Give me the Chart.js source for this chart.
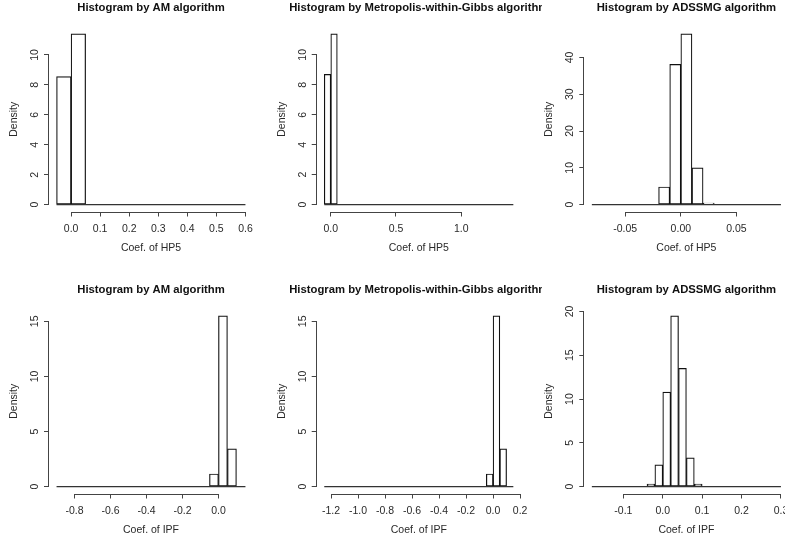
<!DOCTYPE html>
<html>
<head>
<meta charset="utf-8">
<script src="https://cdn.jsdelivr.net/npm/chart.js@4.4.0/dist/chart.umd.min.js"></script>
<style>
  html, body { margin: 0; padding: 0; background: #fff; overflow: hidden; }
  #wrap { position: relative; width: 785px; height: 542px; overflow: hidden; background: #fff; }
  .panel { position: absolute; }
</style>
</head>
<body>
<div id="wrap">
  <div class="panel" style="left:0px;top:0px"><canvas id="am_hp5" width="262" height="260"></canvas></div>
  <div class="panel" style="left:262px;top:0px"><canvas id="mwg_hp5" width="280" height="260"></canvas></div>
  <div class="panel" style="left:543px;top:0px"><canvas id="ads_hp5" width="247" height="260"></canvas></div>
  <div class="panel" style="left:0px;top:282px"><canvas id="am_ipf" width="262" height="260"></canvas></div>
  <div class="panel" style="left:262px;top:282px"><canvas id="mwg_ipf" width="280" height="260"></canvas></div>
  <div class="panel" style="left:543px;top:282px"><canvas id="ads_ipf" width="247" height="260"></canvas></div>
</div>
<script>
// ---------- data (densities) ----------
const title_am = "Histogram by AM algorithm";
const title_mwg = "Histogram by Metropolis-within-Gibbs algorithm";
const title_ads = "Histogram by ADSSMG algorithm";
const xlab_hp5 = "Coef. of HP5";
const xlab_ipf = "Coef. of IPF";
const ylab = "Density";

// HP5
const am_hp5_range = [-0.05, 0.6];          // first / last break
const am_hp5_mids = [-0.025, 0.025];        // bins with non-zero density
const am_hp5_density = [8.55, 11.41];
const am_hp5_xticks = [0.0, 0.1, 0.2, 0.3, 0.4, 0.5, 0.6];
const am_hp5_yticks = [0, 2, 4, 6, 8, 10];

const mwg_hp5_range = [-0.05, 1.4];
const mwg_hp5_mids = [-0.025, 0.025];
const mwg_hp5_density = [8.69, 11.4];
const mwg_hp5_xticks = [0.0, 0.5, 1.0];
const mwg_hp5_yticks = [0, 2, 4, 6, 8, 10];

const ads_hp5_range = [-0.08, 0.09];
const ads_hp5_mids = [-0.015, -0.005, 0.005, 0.015, 0.025];
const ads_hp5_density = [4.8, 38.1, 46.4, 10.0, 0.4];
const ads_hp5_xticks = [-0.05, 0.0, 0.05];
const ads_hp5_yticks = [0, 10, 20, 30, 40];

// IPF
const am_ipf_range = [-0.9, 0.15];
const am_ipf_mids = [-0.025, 0.025, 0.075];
const am_ipf_density = [1.15, 15.5, 3.43];
const am_ipf_xticks = [-0.8, -0.6, -0.4, -0.2, 0.0];
const am_ipf_yticks = [0, 5, 10, 15];

const mwg_ipf_range = [-1.25, 0.15];
const mwg_ipf_mids = [-0.025, 0.025, 0.075];
const mwg_ipf_density = [1.15, 15.5, 3.43];
const mwg_ipf_xticks = [-1.2, -1.0, -0.8, -0.6, -0.4, -0.2, 0.0, 0.2];
const mwg_ipf_yticks = [0, 5, 10, 15];

const ads_ipf_range = [-0.18, 0.3];
const ads_ipf_mids = [-0.03, -0.01, 0.01, 0.03, 0.05, 0.07, 0.09];
const ads_ipf_density = [0.3, 2.5, 10.8, 19.5, 13.5, 3.3, 0.3];
const ads_ipf_xticks = [-0.1, 0.0, 0.1, 0.2, 0.3];
const ads_ipf_yticks = [0, 5, 10, 15, 20];

// ---------- look ----------
const FONT = "'Liberation Sans', Arial, sans-serif";
const AXIS_COLOR = "#444";
const BAR_LINE = "#111";
const TEXT_COLOR = "#2a2a2a";
Chart.defaults.font.family = FONT;

// R style: axis line only from first to last tick, title centred on plot region
const rAxes = {
  id: "rAxes",
  afterDraw(chart, args, opts) {
    const {ctx, chartArea, scales} = chart;
    const al = v => Math.round(v - 0.5) + 0.5;
    const xs = scales.x, ys = scales.y;
    const xt = xs.ticks, yt = ys.ticks;
    ctx.save();
    ctx.strokeStyle = AXIS_COLOR;
    ctx.lineWidth = 1;
    ctx.beginPath();
    const by = Math.round(chartArea.bottom) + 0.5;
    ctx.moveTo(al(xs.getPixelForValue(xt[0].value)) - 0.5, by);
    ctx.lineTo(al(xs.getPixelForValue(xt[xt.length - 1].value)) + 0.5, by);
    const lx = Math.round(chartArea.left) - 0.5;
    ctx.moveTo(lx, al(ys.getPixelForValue(yt[0].value)) + 0.5);
    ctx.lineTo(lx, al(ys.getPixelForValue(yt[yt.length - 1].value)) - 0.5);
    ctx.stroke();

    ctx.font = "bold 11.3px " + FONT;
    ctx.fillStyle = "#111";
    ctx.textAlign = "center";
    ctx.textBaseline = "middle";
    ctx.fillText(opts.text, (chartArea.left + chartArea.right) / 2, 7.5);
    ctx.restore();
  }
};

function makeHist(id, p) {
  const yMax = Math.max(...p.density);
  const xSpan = p.range[1] - p.range[0];
  const tickFont = {size: 10.5, family: FONT};

  new Chart(document.getElementById(id), {
    type: "bar",
    data: {
      datasets: [
        {
          type: "bar",
          data: p.mids.map((m, i) => ({x: m, y: p.density[i]})),
          backgroundColor: "#fff",
          borderColor: BAR_LINE,
          borderWidth: 1.2,
          borderSkipped: false,
          barPercentage: 1,
          categoryPercentage: 1,
          order: 2,
        },
        {
          // zero-height bins drawn as a flat line across all breaks
          type: "line",
          data: [{x: p.range[0], y: 0}, {x: p.range[1], y: 0}],
          borderColor: "#333",
          borderWidth: 1.2,
          pointRadius: 0,
          order: 1,
        },
      ],
    },
    options: {
      responsive: false,
      animation: false,
      devicePixelRatio: 1,
      layout: {padding: {top: 27, left: 0, right: p.padRight, bottom: 0}},
      plugins: {
        legend: {display: false},
        tooltip: {enabled: false},
        rAxes: {text: p.title},
      },
      scales: {
        x: {
          type: "linear",
          offset: false,
          min: p.range[0] - 0.04 * xSpan,
          max: p.range[1] + 0.04 * xSpan,
          afterBuildTicks: s => { s.ticks = p.xticks.map(v => ({value: v})); },
          afterFit: s => { s.height = 48.5; s.paddingLeft = 0; s.paddingRight = 0; },
          grid: {offset: false, drawOnChartArea: false, drawTicks: true, tickLength: 5, color: AXIS_COLOR},
          border: {display: false},
          ticks: {
            autoSkip: false, maxRotation: 0, minRotation: 0, padding: 6,
            font: tickFont, color: TEXT_COLOR,
            callback: v => v.toFixed(p.xdec),
          },
          title: {display: true, text: p.xlab, font: tickFont, color: TEXT_COLOR, padding: {top: 0, bottom: 6}},
        },
        y: {
          type: "linear",
          min: -0.04 * yMax,
          max: 1.04 * yMax,
          afterBuildTicks: s => { s.ticks = p.yticks.map(v => ({value: v})); },
          afterFit: s => { s.width = p.left; s.paddingTop = 0; s.paddingBottom = 0; },
          grid: {drawOnChartArea: false, drawTicks: true, tickLength: 5, color: AXIS_COLOR},
          border: {display: false},
          ticks: {
            autoSkip: false, minRotation: 90, maxRotation: 90, crossAlign: "center", padding: 3,
            font: tickFont, color: TEXT_COLOR,
            callback: v => String(v),
          },
          title: {display: true, text: ylab, font: tickFont, color: TEXT_COLOR, padding: {top: p.left - 35 - 6.3, bottom: 0}},
        },
      },
    },
    plugins: [rAxes],
  });
}

// column geometry (canvas-relative)
const col1 = {left: 49, padRight: 9};
const col2 = {left: 54.7, padRight: 21.1};
const col3 = {left: 41.3, padRight: 1.5};

makeHist("am_hp5", {...col1, title: title_am, xlab: xlab_hp5, xdec: 1, range: am_hp5_range, mids: am_hp5_mids, density: am_hp5_density, xticks: am_hp5_xticks, yticks: am_hp5_yticks});
makeHist("mwg_hp5", {...col2, title: title_mwg, xlab: xlab_hp5, xdec: 1, range: mwg_hp5_range, mids: mwg_hp5_mids, density: mwg_hp5_density, xticks: mwg_hp5_xticks, yticks: mwg_hp5_yticks});
makeHist("ads_hp5", {...col3, title: title_ads, xlab: xlab_hp5, xdec: 2, range: ads_hp5_range, mids: ads_hp5_mids, density: ads_hp5_density, xticks: ads_hp5_xticks, yticks: ads_hp5_yticks});
makeHist("am_ipf", {...col1, title: title_am, xlab: xlab_ipf, xdec: 1, range: am_ipf_range, mids: am_ipf_mids, density: am_ipf_density, xticks: am_ipf_xticks, yticks: am_ipf_yticks});
makeHist("mwg_ipf", {...col2, title: title_mwg, xlab: xlab_ipf, xdec: 1, range: mwg_ipf_range, mids: mwg_ipf_mids, density: mwg_ipf_density, xticks: mwg_ipf_xticks, yticks: mwg_ipf_yticks});
makeHist("ads_ipf", {...col3, title: title_ads, xlab: xlab_ipf, xdec: 1, range: ads_ipf_range, mids: ads_ipf_mids, density: ads_ipf_density, xticks: ads_ipf_xticks, yticks: ads_ipf_yticks});
</script>
</body>
</html>
